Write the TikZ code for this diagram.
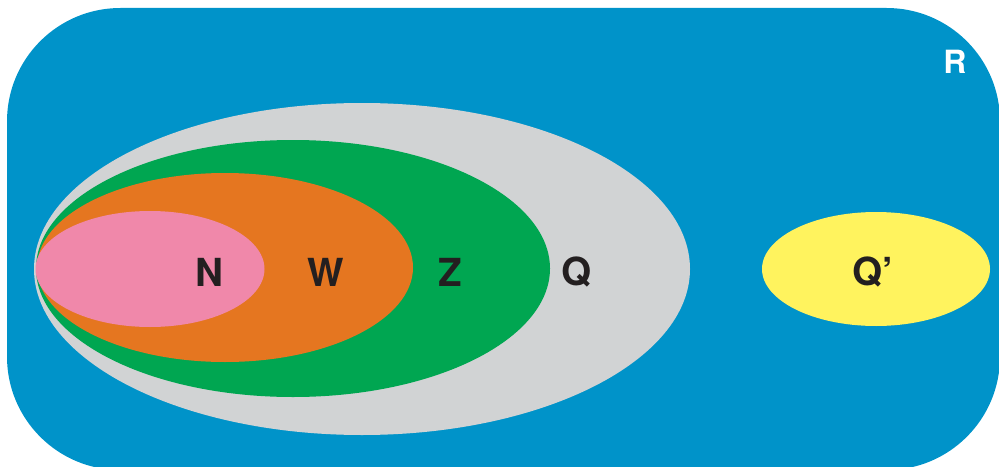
\documentclass[tikz,border=0pt]{standalone}
\usepackage{fontspec}
\setmainfont{TeX Gyre Heros}
\definecolor{setR}{RGB}{0,147,201}
\definecolor{setQ}{RGB}{209,211,212}
\definecolor{setZ}{RGB}{0,166,81}
\definecolor{setW}{RGB}{229,118,32}
\definecolor{setN}{RGB}{240,136,170}
\definecolor{setQc}{RGB}{255,243,94}
\definecolor{ink}{RGB}{35,31,32}

\begin{document}
\begin{tikzpicture}[x=0.75pt,y=-0.75pt,
  setlabel/.style={text=ink,font=\fontsize{29}{30}\selectfont\bfseries,inner sep=0pt},
  ]
\useasboundingbox (0,0) rectangle (999,467);
%% universe
\fill [setR,rounded corners=85] (7,8) rectangle (1000,470);
%% nested sets
\fill [setQ] (362,269) ellipse [x radius=328,y radius=166];
\fill [setZ] (293,268.5) ellipse [x radius=257,y radius=128.5];
\fill [setW] (225,267.5) ellipse [x radius=188,y radius=94.5];
\fill [setN] (150,269) ellipse [x radius=114.5,y radius=58];
%% complement
\fill [setQc] (876,269) ellipse [x radius=114,y radius=57];
%% labels
\node (node_N) at (209,272) [setlabel] {N};
\node (node_W) at (326,272) [setlabel] {W};
\node (node_Z) at (450,272) [setlabel] {Z};
\node (node_Q) at (577,272) [setlabel] {Q};
\node (node_Qc) at (873,272) [setlabel] {Q’};
\node (node_R) at (955,61.5) [setlabel,text=white,font=\fontsize{24}{25}\selectfont\bfseries] {R};
%
\end{tikzpicture}
\end{document}
